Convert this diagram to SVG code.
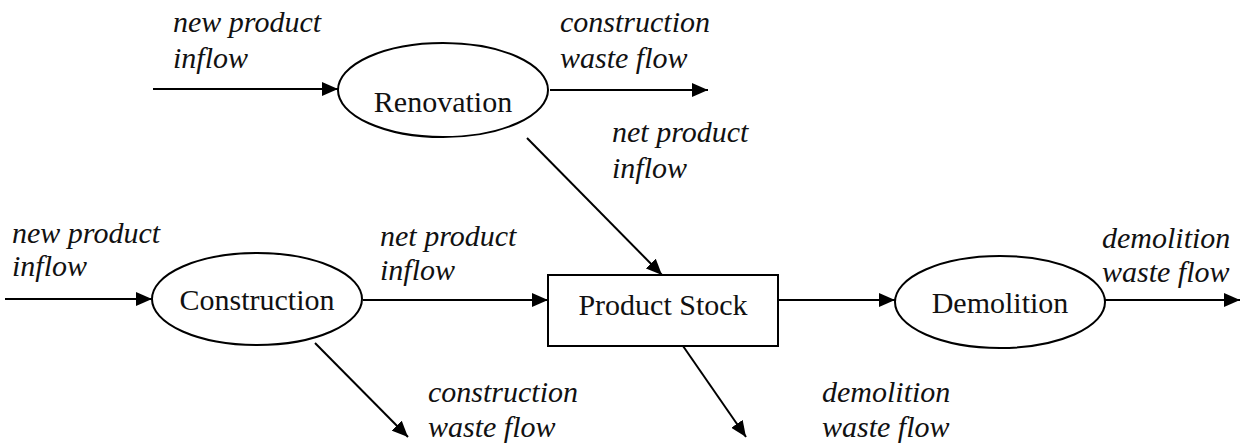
<svg xmlns="http://www.w3.org/2000/svg" width="1241" height="446" viewBox="0 0 1241 446">
<style>
.node{fill:#fff;stroke:#000;stroke-width:2}
.lbl{font-family:"Liberation Serif",serif;font-size:30px;fill:#111}
.it{font-family:"Liberation Serif",serif;font-size:30px;font-style:italic;fill:#111}
.c{fill:none;stroke:#000;stroke-width:2;marker-end:url(#ah)}
</style>
<defs>
<marker id="ah" markerUnits="userSpaceOnUse" markerWidth="18" markerHeight="14" refX="16" refY="7" orient="auto">
<path d="M0,0 L16,7 L0,14 Z" fill="#000"/>
</marker>
</defs>
<g id="connectors">
<line class="c" x1="153" y1="89" x2="338" y2="89"/>
<line class="c" x1="550" y1="90" x2="708" y2="90"/>
<line class="c" x1="527" y1="138" x2="662" y2="275"/>
<line class="c" x1="5" y1="299" x2="152" y2="299"/>
<line class="c" x1="363" y1="300" x2="548" y2="300"/>
<line class="c" x1="778" y1="300" x2="895" y2="300"/>
<line class="c" x1="1105" y1="300" x2="1240" y2="300"/>
<line class="c" x1="315" y1="343" x2="408" y2="437"/>
<line class="c" x1="683" y1="346" x2="746" y2="437"/>
</g>
<g id="labels">
<text class="it" x="173" y="32">new product</text>
<text class="it" x="173" y="68">inflow</text>
<text class="it" x="560" y="32">construction</text>
<text class="it" x="560" y="68">waste flow</text>
<text class="it" x="612" y="142">net product</text>
<text class="it" x="612" y="178">inflow</text>
<text class="it" x="12" y="243">new product</text>
<text class="it" x="12" y="276">inflow</text>
<text class="it" x="380" y="246">net product</text>
<text class="it" x="380" y="280">inflow</text>
<text class="it" x="1102" y="248">demolition</text>
<text class="it" x="1102" y="282">waste flow</text>
<text class="it" x="428" y="402">construction</text>
<text class="it" x="428" y="437">waste flow</text>
<text class="it" x="822" y="402">demolition</text>
<text class="it" x="822" y="437">waste flow</text>
</g>
<g id="renovation">
<ellipse class="node" cx="443" cy="90" rx="105" ry="47"/>
<text class="lbl" x="443" y="112" text-anchor="middle">Renovation</text>
</g>
<g id="construction">
<ellipse class="node" cx="257" cy="299" rx="105" ry="46"/>
<text class="lbl" x="257" y="310" text-anchor="middle">Construction</text>
</g>
<g id="product-stock">
<rect class="node" x="548" y="275" width="230" height="71"/>
<text class="lbl" x="663" y="315" text-anchor="middle">Product Stock</text>
</g>
<g id="demolition">
<ellipse class="node" cx="1000" cy="302" rx="105" ry="46"/>
<text class="lbl" x="1000" y="313" text-anchor="middle">Demolition</text>
</g>
</svg>
